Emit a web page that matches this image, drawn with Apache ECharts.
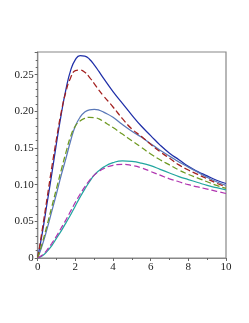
<!DOCTYPE html>
<html><head><meta charset="utf-8">
<script src="https://cdn.jsdelivr.net/npm/echarts@6/dist/echarts.min.js"></script>
<style>html,body{margin:0;padding:0;background:#fff}#c{width:249px;height:323px}</style>
</head><body><div id="c"></div>
<script>
var tValues = [0,0.25,0.5,0.75,1,1.25,1.5,1.75,2,2.25,2.5,2.75,3,3.25,3.5,4,4.5,5,5.5,6,6.5,7,7.5,8,8.5,9,9.5,10];
var blueSolid = [0,0.035,0.075,0.115,0.157,0.196,0.230,0.256,0.2705,0.2762,0.2755,0.2712,0.2635,0.2545,0.245,0.227,0.211,0.195,0.180,0.167,0.154,0.143,0.134,0.125,0.118,0.112,0.106,0.1016];
var redDashed = [0,0.040,0.082,0.124,0.163,0.199,0.227,0.246,0.2555,0.2565,0.2535,0.2465,0.238,0.229,0.221,0.206,0.190,0.176,0.166,0.155,0.145,0.136,0.127,0.120,0.114,0.108,0.102,0.097];
var steelSolid = [0,0.018,0.040,0.064,0.088,0.113,0.136,0.160,0.180,0.192,0.199,0.2022,0.2028,0.2018,0.199,0.192,0.182,0.173,0.165,0.156,0.147,0.139,0.131,0.124,0.117,0.110,0.104,0.099];
var greenDashed = [0,0.021,0.045,0.070,0.095,0.120,0.144,0.166,0.180,0.187,0.1905,0.1918,0.1915,0.1898,0.186,0.178,0.169,0.160,0.151,0.142,0.134,0.127,0.120,0.114,0.109,0.104,0.099,0.095];
var tealSolid = [0,0.003,0.009,0.017,0.027,0.037,0.048,0.059,0.071,0.083,0.094,0.104,0.113,0.119,0.124,0.130,0.1326,0.1318,0.1295,0.126,0.121,0.116,0.111,0.107,0.103,0.099,0.096,0.093];
var magentaDashed = [0,0.004,0.011,0.020,0.030,0.041,0.052,0.064,0.076,0.087,0.097,0.106,0.113,0.118,0.122,0.1265,0.1278,0.1262,0.123,0.118,0.113,0.108,0.104,0.100,0.097,0.094,0.091,0.088];
var yTickLabels = {0:'0',0.05:'0.05',0.1:'0.10',0.15:'0.15',0.2:'0.20',0.25:'0.25'};

function pairs(ys){ return tValues.map(function(t,i){ return [t, ys[i]]; }); }
function mk(name, ys, color, dashed){
  return {name:name, type:'line', data:pairs(ys), smooth:0.5, showSymbol:false, symbol:'none',
    lineStyle:{color:color, width:1.25, type: dashed ? [6,3] : 'solid'}, z: dashed ? 3 : 2, animation:false};
}
var chart = echarts.init(document.getElementById('c'), null, {renderer:'canvas'});
var labelStyle = {color:'#222', fontFamily:'Liberation Serif', fontSize:11};
chart.setOption({
  animation:false,
  grid:{left:37.7, right:23, top:52, bottom:65, show:true, borderColor:'#888', borderWidth:1.2, backgroundColor:'transparent'},
  xAxis:{type:'value', min:0, max:10, interval:2,
    axisLine:{show:true, onZero:false, lineStyle:{color:'#888', width:1.2}},
    axisTick:{show:true, length:3, lineStyle:{color:'#666'}},
    minorTick:{show:true, splitNumber:2, length:2, lineStyle:{color:'#666'}},
    splitLine:{show:false},
    axisLabel:Object.assign({margin:4}, labelStyle)},
  yAxis:{type:'value', min:0, max:0.281, interval:0.05,
    axisLine:{show:true, lineStyle:{color:'#888', width:1.2}},
    axisTick:{show:true, length:3, lineStyle:{color:'#666'}},
    minorTick:{show:true, splitNumber:5, length:2, lineStyle:{color:'#666'}},
    splitLine:{show:false},
    axisLabel:Object.assign({margin:4, showMaxLabel:false, formatter:function(v){
      var k = Math.round(v*100)/100; return yTickLabels[k] !== undefined ? yTickLabels[k] : '';
    }}, labelStyle)},
  series:[
    mk('blue', blueSolid, '#1f2fa8', false),
    mk('red', redDashed, '#a3201f', true),
    mk('steel', steelSolid, '#5a78b8', false),
    mk('green', greenDashed, '#6f9a22', true),
    mk('teal', tealSolid, '#22a6a0', false),
    mk('magenta', magentaDashed, '#b035b0', true)
  ]
});
</script></body></html>
